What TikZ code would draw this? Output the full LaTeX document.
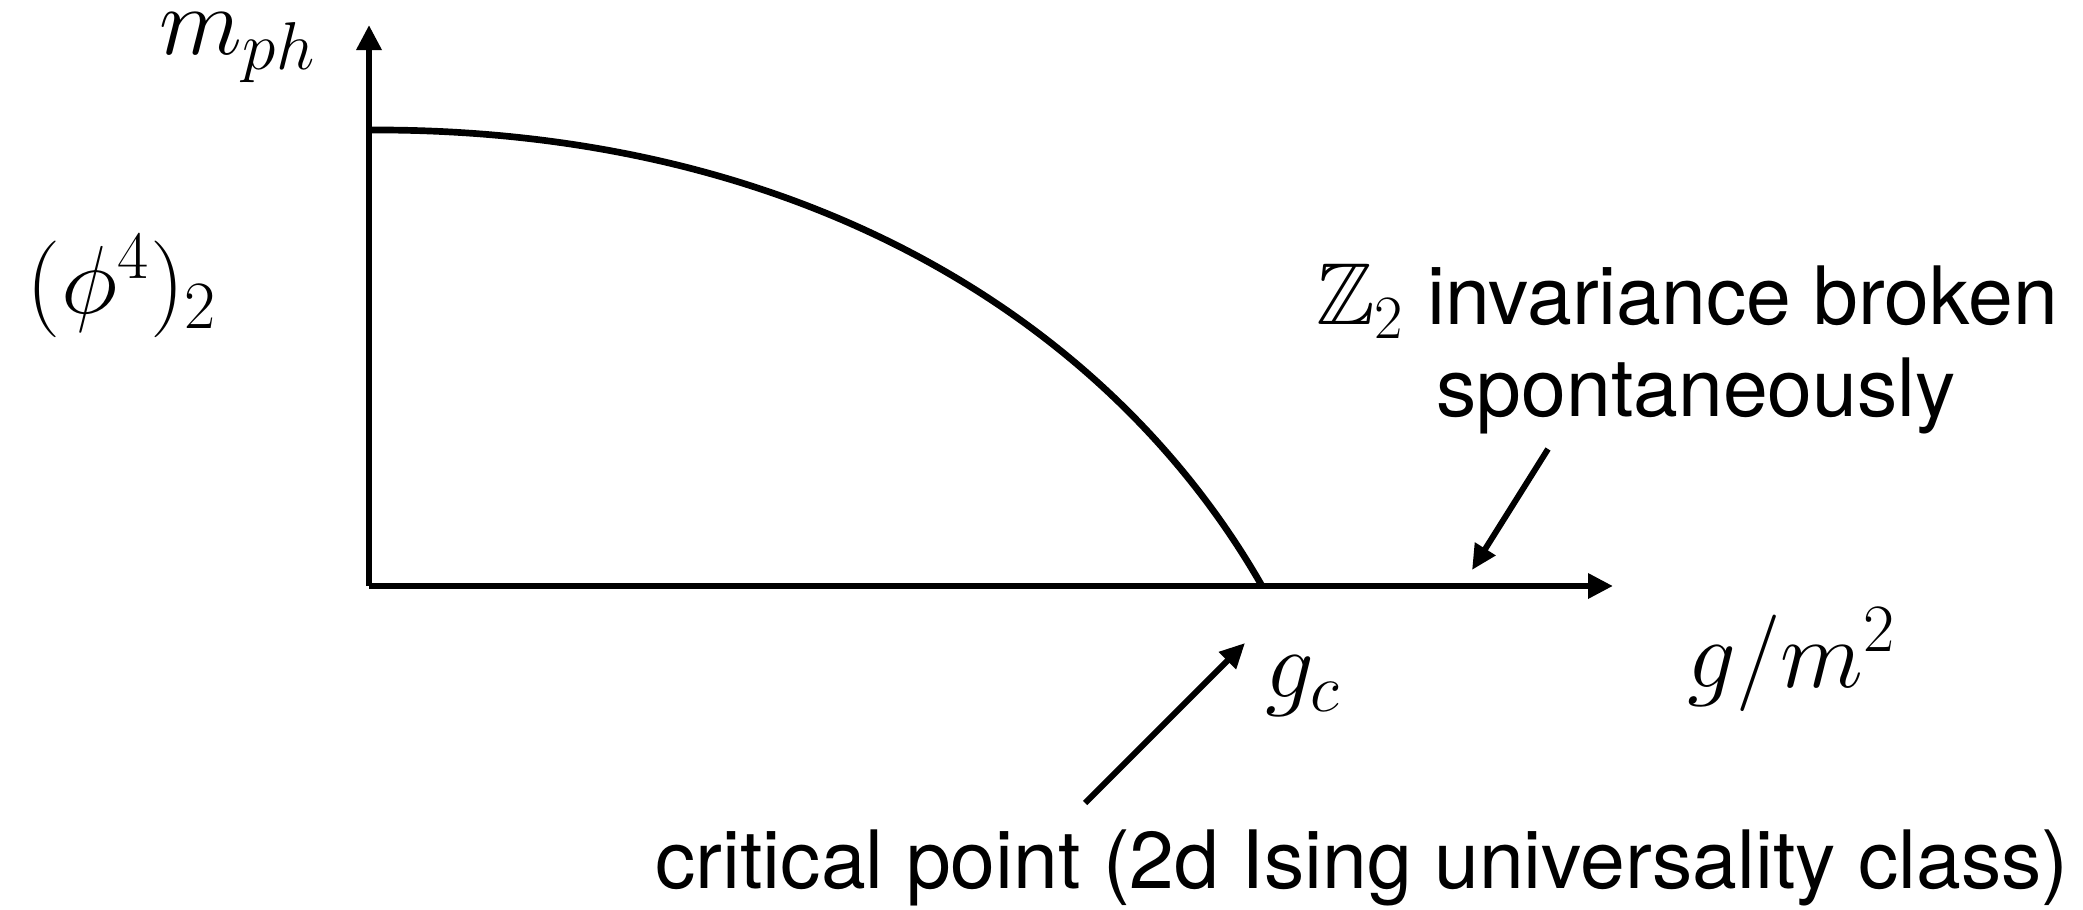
\RequirePackage{fix-cm}
\documentclass[tikz,border=0pt]{standalone}
\usepackage{amsmath,amssymb}
\usepackage{fontspec}
\setmainfont{TeX Gyre Heros}
\usetikzlibrary{arrows.meta}

\begin{document}
\begin{tikzpicture}[x=0.01cm,y=-0.01cm,
   axis/.style={line width=1.8pt,-{Triangle[length=2.5mm,width=2.4mm]}},
   pointer/.style={line width=1.7pt,-{Triangle[length=2.5mm,width=2.3mm]}},
   txt/.style={inner sep=0pt,anchor=base,font=\fontsize{22.9}{27}\selectfont},
   mth/.style={inner sep=0pt,anchor=base,font=\fontsize{27.5}{32}\selectfont}]
  \useasboundingbox (0,0) rectangle (2083,910);
  % axes
  \coordinate (O) at (369,586);
  \coordinate (ytop) at (369,25);
  \coordinate (xend) at (1613,586);
  \draw[axis] (O) -- (ytop);
  \draw[axis] (O) -- (xend);
  % mass curve
  \coordinate (mstart) at (369,130);
  \coordinate (gc) at (1262,586);
  \draw[line width=1.9pt] (mstart) .. controls (800,128) and (1110,320) .. (gc);
  % labels
  \node[mth] (mlab) at (238,55) {$m_{ph}$};
  \node[mth] (philab) at (122,314) {$(\phi^4)_2$};
  \node[mth] (glab) at (1792,687) {$g/m^2$};
  \node[mth] (gclab) at (1303,697) {$g_c$};
  \node[txt] (ztext) at (1687,325) {{\fontsize{25}{30}\selectfont$\mathbb{Z}_2$} invariance broken};
  \node[txt] (stext) at (1696,417) {spontaneously};
  \node[txt] (crit) at (1362,888) {critical point (2d Ising universality class)};
  % pointers
  \coordinate (brkA) at (1548,449);
  \coordinate (brkB) at (1472,570);
  \coordinate (crA) at (1085,803);
  \coordinate (crB) at (1245,643);
  \draw[pointer] (brkA) -- (brkB);
  \draw[pointer] (crA) -- (crB);
\end{tikzpicture}
\end{document}
